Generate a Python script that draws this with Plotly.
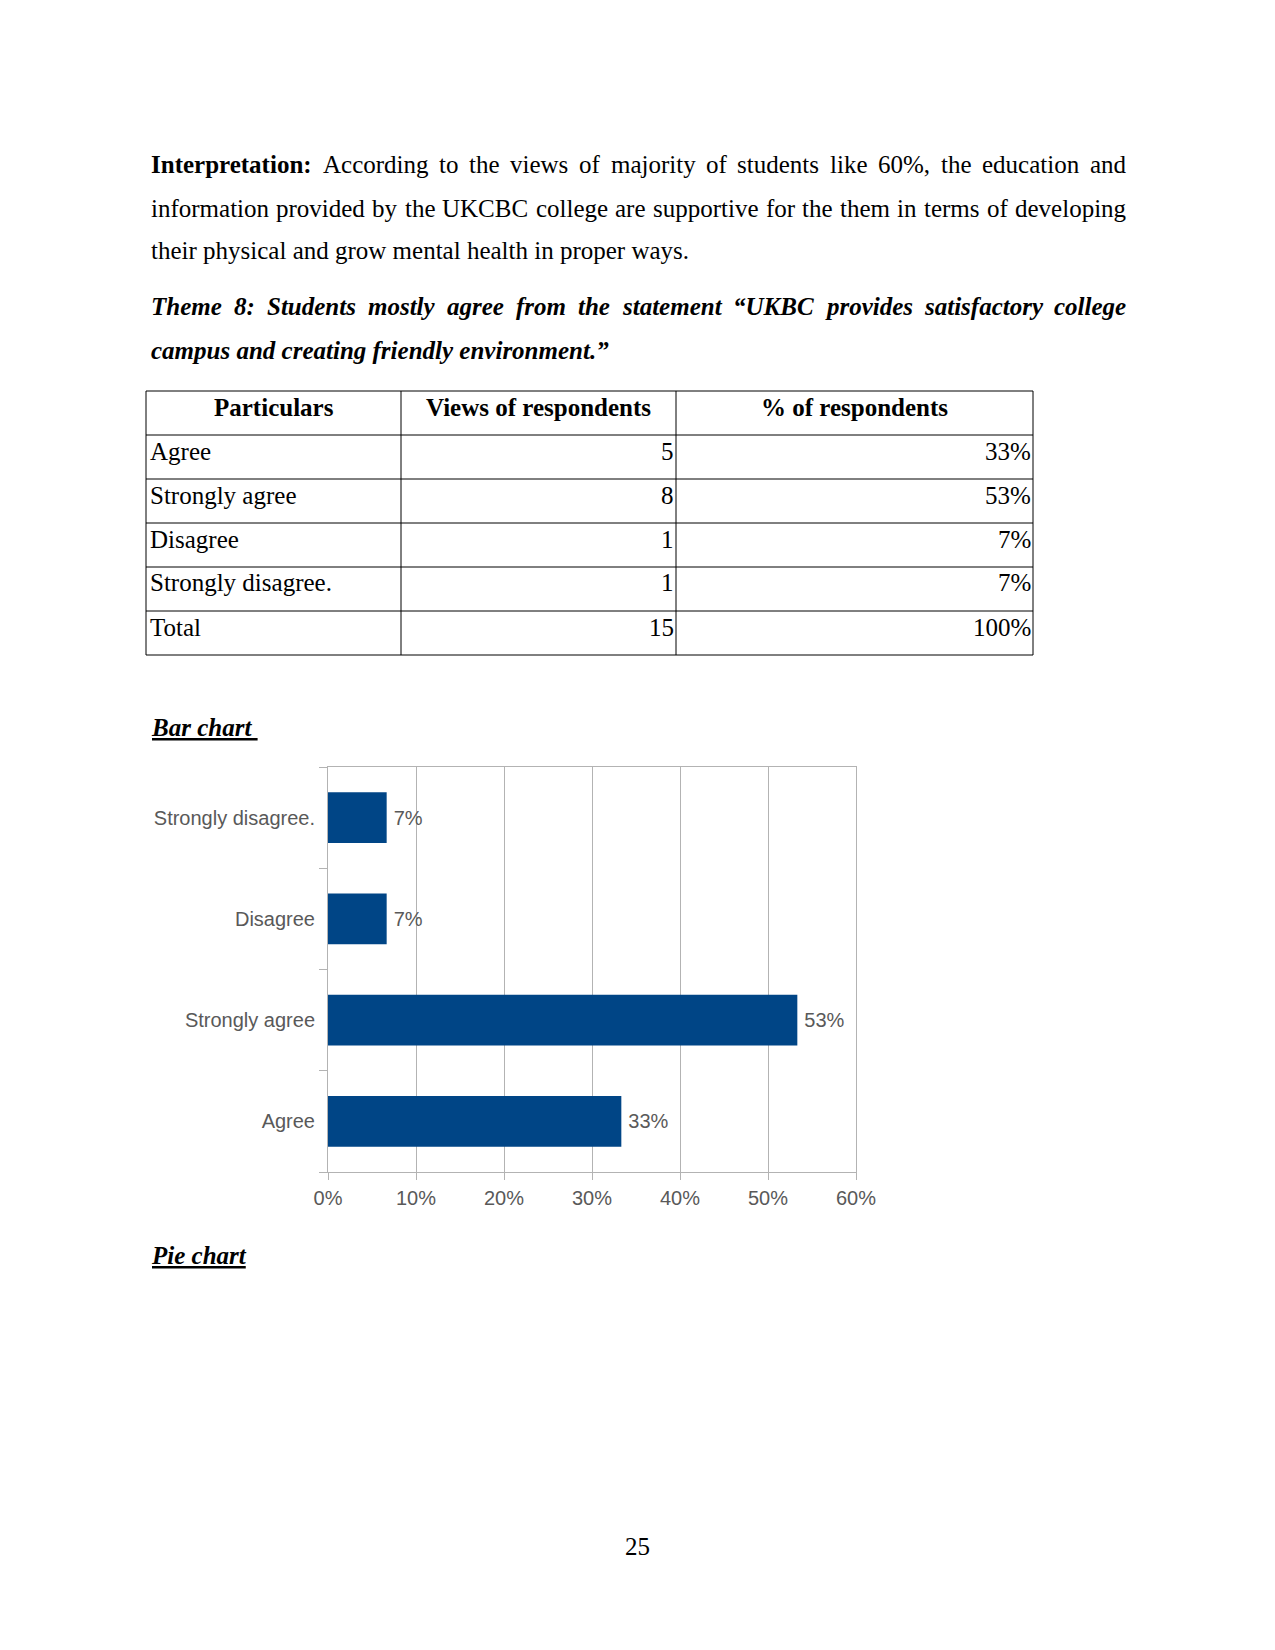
import plotly.graph_objects as go

# ---------------- data ----------------
categories = ["Agree", "Strongly agree", "Disagree", "Strongly disagree."]
counts = [5, 8, 1, 1]
pct_labels = ["33%", "53%", "7%", "7%"]
total_count = 15
total_pct = "100%"
table_headers = ["Particulars", "Views of respondents", "% of respondents"]
x_ticks = [0, 0.1, 0.2, 0.3, 0.4, 0.5, 0.6]

para1 = [
    [("Interpretation:", "b"), "According", "to", "the", "views", "of", "majority", "of",
     "students", "like", "60%,", "the", "education", "and"],
    ["information", "provided", "by", "the", "UKCBC", "college", "are", "supportive", "for",
     "the", "them", "in", "terms", "of", "developing"],
    ["their physical and grow mental health in proper ways."],
]
theme_lines = [
    ["Theme", "8:", "Students", "mostly", "agree", "from", "the", "statement", "\u201cUKBC",
     "provides", "satisfactory", "college"],
    ["campus and creating friendly environment.\u201d"],
]

W, H = 1275, 1650
SERIF = "Liberation Serif"
SANS = "Liberation Sans"
GRAY = "#595959"
GRID = "#b3b3b3"
BAR = "#004586"


def px(x):
    return x / W


def py(y):
    return 1 - y / H


def mk(lower, upper, extra):
    d = {}
    for c, w in zip("abcdefghijklmnopqrstuvwxyz", lower):
        d[c] = w
    for c, w in zip("ABCDEFGHIJKLMNOPQRSTUVWXYZ", upper):
        d[c] = w
    for c in "0123456789":
        d[c] = 500
    d.update(extra)
    return d


M_R = mk([444, 500, 444, 500, 444, 333, 500, 500, 278, 278, 500, 278, 778, 500, 500, 500, 500, 333, 389, 278, 500, 500, 722, 500, 500, 444],
         [722, 667, 667, 722, 611, 556, 722, 722, 333, 389, 722, 611, 889, 722, 722, 556, 722, 667, 556, 611, 722, 722, 944, 722, 722, 611],
         {" ": 250, "%": 833, ",": 250, ".": 250, ":": 278, "\u201c": 444, "\u201d": 444})
M_B = mk([500, 556, 444, 556, 444, 333, 500, 556, 278, 333, 556, 278, 833, 556, 500, 556, 556, 444, 389, 333, 556, 500, 722, 500, 500, 444],
         [722, 667, 722, 722, 667, 611, 778, 778, 389, 500, 778, 667, 944, 722, 778, 611, 778, 722, 556, 667, 722, 722, 1000, 722, 722, 667],
         {" ": 250, "%": 1000, ",": 250, ".": 250, ":": 333, "\u201c": 500, "\u201d": 500})
M_BI = mk([500, 500, 444, 500, 444, 333, 500, 556, 278, 278, 500, 278, 778, 556, 500, 500, 500, 389, 389, 278, 556, 444, 667, 500, 444, 389],
          [667, 667, 667, 722, 667, 667, 722, 778, 389, 500, 667, 611, 889, 722, 722, 611, 722, 667, 556, 611, 722, 667, 889, 667, 611, 611],
          {" ": 250, "%": 833, ",": 250, ".": 250, ":": 333, "\u201c": 500, "\u201d": 500})
METRICS = {"r": M_R, "b": M_B, "bi": M_BI}


def tw(s, style, size):
    m = METRICS[style]
    return sum(m.get(c, 500) for c in s) * size / 1000.0


def fmt(s, style):
    if style == "b":
        return "<b>%s</b>" % s
    if style == "bi":
        return "<b><i>%s</i></b>" % s
    return s


annotations = []


def add_text(text, x, y, size=25, family=SERIF, color="black", xanchor="left"):
    annotations.append(dict(
        text=text, x=px(x), y=py(y), xref="paper", yref="paper", showarrow=False,
        xanchor=xanchor, yanchor="middle", borderpad=0,
        font=dict(family=family, size=size, color=color)))


def add_line(words, y, default_style, justify, left=150, right=1125, size=25):
    items = [(w, default_style) if isinstance(w, str) else w for w in words]
    if not justify or len(items) == 1:
        x = left
        for w, st in items:
            add_text(fmt(w, st), x, y, size)
            x += tw(w + " ", st, size)
        return
    widths = [tw(w, st, size) for w, st in items]
    gap = (right - left - sum(widths)) / (len(items) - 1)
    x = left
    for (w, st), wd in zip(items, widths):
        add_text(fmt(w, st), x, y, size)
        x += wd + gap


line_y = [165, 208, 251]
for i, words in enumerate(para1):
    add_line(words, line_y[i], "r", justify=(i < len(para1) - 1))
theme_y = [307, 350]
for i, words in enumerate(theme_lines):
    add_line(words, theme_y[i], "bi", justify=(i < len(theme_lines) - 1))

# ---------------- table ----------------
shapes = []
t_left, t_right, t_top, row_h = 146, 1033, 391, 44
col_x = [146, 401, 676, 1033]
n_rows = 1 + len(categories) + 1
for r in range(n_rows + 1):
    yy = t_top + r * row_h
    shapes.append(dict(type="line", xref="paper", yref="paper", x0=px(t_left), x1=px(t_right),
                       y0=py(yy), y1=py(yy), line=dict(color="black", width=1)))
for cx in col_x:
    shapes.append(dict(type="line", xref="paper", yref="paper", x0=px(cx), x1=px(cx),
                       y0=py(t_top), y1=py(t_top + n_rows * row_h), line=dict(color="black", width=1)))

txt_off = 16
for j, h in enumerate(table_headers):
    add_text("<b>%s</b>" % h, (col_x[j] + col_x[j + 1]) / 2, t_top + txt_off, xanchor="center")
rows = list(zip(categories, counts, pct_labels)) + [("Total", total_count, total_pct)]
for r, (lab, cnt, pc) in enumerate(rows):
    yy = t_top + (r + 1) * row_h + txt_off
    add_text(lab, col_x[0] + 3, yy)
    add_text(str(cnt), col_x[2] - 1, yy, xanchor="right")
    add_text(pc, col_x[3] - 1, yy, xanchor="right")

add_text("<b><i><u>Bar chart\u00a0</u></i></b>", 150, 727)
add_text("<b><i><u>Pie chart</u></i></b>", 150, 1255)
add_text("25", 637, 1546, xanchor="center")

# ---------------- bar chart ----------------
shares = [c / total_count for c in counts]
fig = go.Figure(go.Bar(
    x=shares, y=categories, orientation="h",
    marker=dict(color=BAR, line=dict(width=0)),
    texttemplate="\u2009%{x:.0%}", textposition="outside", constraintext="none",
    textfont=dict(family=SANS, size=20, color=GRAY), cliponaxis=False,
    hoverinfo="skip",
))

plot_l, plot_r, plot_t, plot_b = 328, 856, 767, 1172
fig.update_layout(
    width=W, height=H, margin=dict(l=0, r=0, t=0, b=0, autoexpand=False),
    paper_bgcolor="white", plot_bgcolor="white", showlegend=False,
    bargap=0.5,
    annotations=annotations, shapes=shapes,
    xaxis=dict(domain=[px(plot_l), px(plot_r)], range=[0, 0.6], tickvals=x_ticks,
               tickformat=".0%", showgrid=True, gridcolor=GRID, gridwidth=1,
               showline=True, linecolor=GRID, linewidth=1, mirror=True,
               ticks="outside", ticklen=7, tickcolor=GRID, zeroline=False,
               tickfont=dict(family=SANS, size=20, color=GRAY), ticklabelstandoff=1,
               automargin=False, fixedrange=True),
    yaxis=dict(domain=[py(plot_b), py(plot_t)], type="category",
               categoryorder="array", categoryarray=categories,
               tickson="boundaries", ticks="outside", ticklen=8, tickcolor=GRID,
               showline=True, linecolor=GRID, linewidth=1, mirror=True,
               showgrid=False, zeroline=False,
               tickfont=dict(family=SANS, size=20, color=GRAY), ticklabelstandoff=8,
               automargin=False, fixedrange=True),
)

fig.write_html("out.html", config={"displayModeBar": False},
               post_script="document.body.style.margin='0';")
